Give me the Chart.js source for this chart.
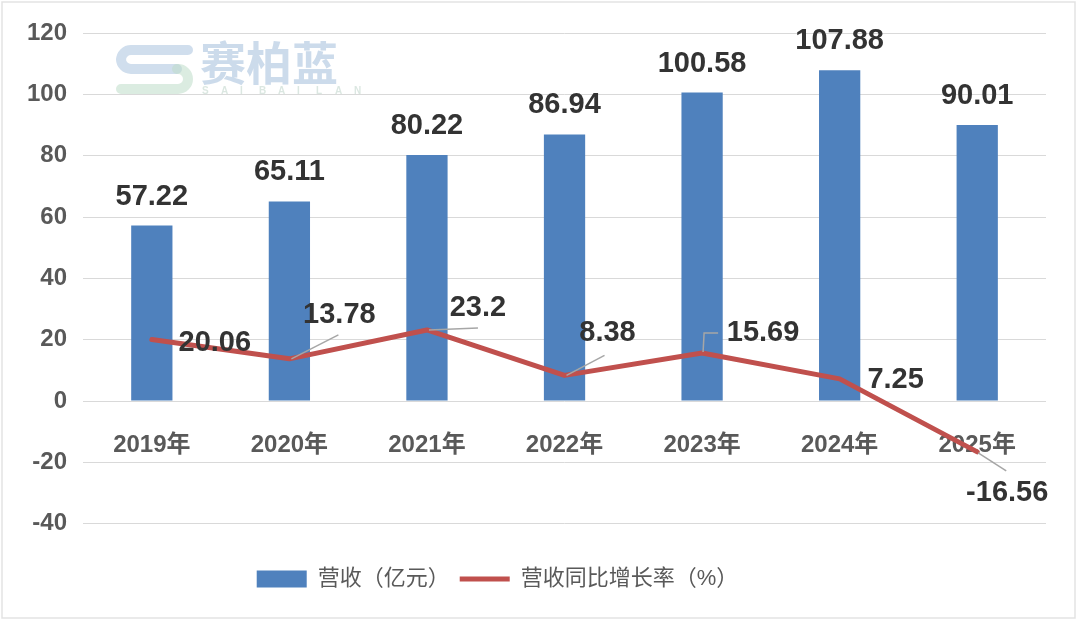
<!DOCTYPE html>
<html>
<head>
<meta charset="utf-8">
<script src="https://cdn.jsdelivr.net/npm/chart.js@4.4.1/dist/chart.umd.min.js"></script>
<style>
  html, body { margin: 0; padding: 0; background: #fff; }
  canvas { display: block; }
</style>
</head>
<body>
<canvas id="revChart" width="1080" height="622"></canvas>
<script>
// 数据
const years = ['2019年', '2020年', '2021年', '2022年', '2023年', '2024年', '2025年'];
const revenue = [57.22, 65.11, 80.22, 86.94, 100.58, 107.88, 90.01];
const growth = [20.06, 13.78, 23.2, 8.38, 15.69, 7.25, -16.56];
const yMin = -40, yMax = 120, yStep = 20;

// 折线标签的偏移与引导线（样式，不是数据）
const growthLabelOffset = [[63, 3], [50, -44], [51, -22], [43, -42], [61, -20], [56, 1], [30, 41]];
const growthLeader = [
    null,
    [[2, 0], [49, -24]],
    [[2, 0], [51, -2]],
    [[2, 0], [40, -20]],
    [[1, -1], [2, -20], [16, -20]],
    null,
    [[1, 1], [29, 19]]
];

const FONT = "'Liberation Sans', 'Noto Sans CJK SC', sans-serif";
const BLUE = '#4f81bd';
const RED = '#c0504d';

Chart.defaults.font.family = FONT;
Chart.defaults.color = '#595959';

// 背景、边框和水印
const backdrop = {
    id: 'backdrop',
    afterLayout(chart) {
        // 图例整体略偏左
        chart.legend.left -= 31;
        chart.legend.right -= 31;
    },
    beforeDraw(chart) {
        const ctx = chart.ctx;
        ctx.save();
        ctx.fillStyle = '#fff';
        ctx.fillRect(0, 0, chart.width, chart.height);
        ctx.strokeStyle = '#e3e3e3';
        ctx.lineWidth = 1.5;
        ctx.strokeRect(2, 2, 1073, 616);

        // 水印 logo
        ctx.lineCap = 'round';
        ctx.lineJoin = 'round';
        ctx.lineWidth = 10;
        ctx.strokeStyle = 'rgba(170,195,222,0.55)';
        ctx.beginPath();
        ctx.moveTo(188, 50);
        ctx.lineTo(132, 50);
        ctx.arcTo(121, 50, 121, 60, 10);
        ctx.arcTo(121, 69, 132, 69, 10);
        ctx.lineTo(177, 69);
        ctx.stroke();
        ctx.strokeStyle = 'rgba(190,220,200,0.55)';
        ctx.beginPath();
        ctx.moveTo(177, 69);
        ctx.arcTo(188, 69, 188, 79, 10);
        ctx.arcTo(188, 89, 177, 89, 10);
        ctx.lineTo(121, 89);
        ctx.stroke();

        ctx.fillStyle = 'rgba(170,195,222,0.6)';
        ctx.font = "bold 46px 'Noto Sans CJK SC', sans-serif";
        ctx.textBaseline = 'middle';
        ctx.textAlign = 'left';
        ctx.fillText('赛柏蓝', 200, 63);
        ctx.fillStyle = 'rgba(195,215,205,0.6)';
        ctx.font = 'bold 10px ' + FONT;
        const letters = 'SAIBAILAN';
        for (let i = 0; i < letters.length; i++) {
            ctx.fillText(letters[i], 202 + i * 19, 91);
        }
        ctx.restore();
    }
};

// 数值标签
const valueLabels = {
    id: 'valueLabels',
    afterDatasetsDraw(chart) {
        const ctx = chart.ctx;
        ctx.save();
        ctx.font = 'bold 29px ' + FONT;
        ctx.fillStyle = '#333';
        ctx.textAlign = 'center';

        // 柱子上方
        const barMeta = chart.getDatasetMeta(0);
        barMeta.data.forEach((bar, i) => {
            ctx.textBaseline = 'alphabetic';
            ctx.fillText(String(revenue[i]), bar.x, bar.y - 21);
        });

        // 折线标签 + 引导线
        const lineMeta = chart.getDatasetMeta(1);
        lineMeta.data.forEach((pt, i) => {
            const lead = growthLeader[i];
            if (lead) {
                ctx.strokeStyle = '#a6a6a6';
                ctx.lineWidth = 1.5;
                ctx.beginPath();
                lead.forEach((p, k) => {
                    if (k === 0) ctx.moveTo(pt.x + p[0], pt.y + p[1]);
                    else ctx.lineTo(pt.x + p[0], pt.y + p[1]);
                });
                ctx.stroke();
            }
            const off = growthLabelOffset[i];
            ctx.textBaseline = 'middle';
            ctx.fillText(String(growth[i]), pt.x + off[0], pt.y + off[1]);
        });
        ctx.restore();
    }
};

new Chart(document.getElementById('revChart'), {
    type: 'bar',
    data: {
        labels: years,
        datasets: [
            {
                label: '营收（亿元）',
                data: revenue,
                backgroundColor: BLUE,
                borderWidth: 0,
                categoryPercentage: 1,
                barPercentage: 0.3,
                pointStyle: 'rect',
                order: 1
            },
            {
                type: 'line',
                label: '营收同比增长率（%）',
                data: growth,
                borderColor: RED,
                backgroundColor: RED,
                borderWidth: 5,
                pointRadius: 0,
                tension: 0,
                pointStyle: 'line',
                borderCapStyle: 'round',
                borderJoinStyle: 'round',
                order: 0
            }
        ]
    },
    options: {
        responsive: false,
        animation: false,
        devicePixelRatio: 1,
        layout: { padding: { top: 33, left: 11, right: 34, bottom: 22 } },
        plugins: {
            tooltip: { enabled: false },
            legend: {
                position: 'bottom',
                title: { display: true, text: ' ', font: { size: 1 }, padding: { top: 0, bottom: 33 } },
                labels: {
                    usePointStyle: true,
                    pointStyleWidth: 50,
                    boxHeight: 17,
                    padding: 10,
                    color: '#595959',
                    font: { size: 22 },
                    sort: (a, b) => a.datasetIndex - b.datasetIndex
                }
            }
        },
        scales: {
            x: {
                position: { y: 0 },
                grid: { display: false },
                border: { display: false },
                ticks: { color: '#595959', font: { size: 24, weight: 'bold' }, padding: 22 }
            },
            y: {
                min: yMin,
                max: yMax,
                border: { display: false },
                grid: { color: '#d9d9d9', lineWidth: 1, drawTicks: false },
                ticks: { stepSize: yStep, color: '#595959', font: { size: 24, weight: 'bold' }, padding: 16 }
            }
        }
    },
    plugins: [backdrop, valueLabels]
});
</script>
</body>
</html>
